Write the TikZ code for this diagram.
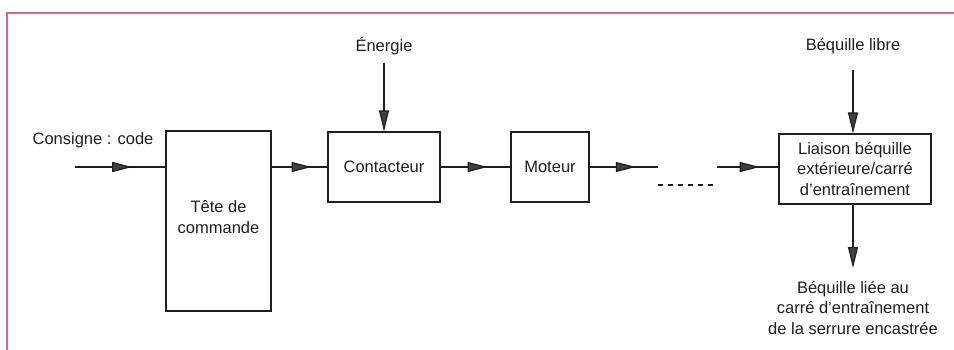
\documentclass[tikz,border=0pt]{standalone}
\usepackage{fontspec}
\setmainfont{Liberation Sans}
\usetikzlibrary{arrows.meta,decorations.markings}
\definecolor{framepink}{RGB}{214,98,150}
\definecolor{ink}{RGB}{30,30,30}
\tikzset{
  block/.style={draw=ink, line width=1.2pt, inner sep=0pt, align=center,
    text=ink, font=\fontsize{16.5}{20.5}\selectfont},
  lbl/.style={inner sep=0pt, align=center, text=ink,
    font=\fontsize{16.5}{20.5}\selectfont},
  link/.style={draw=ink, line width=1.2pt},
  midarrow/.style={link, postaction={decorate}, decoration={markings,
    mark=at position 0.5 with {\arrow[xshift=12pt]{Triangle[length=20pt,width=10pt,fill=ink!85]}}}},
  endarrow/.style={link, -{Triangle[length=21pt,width=10pt,fill=ink!85]}}
}
\begin{document}
\begin{tikzpicture}[x=1pt,y=-1pt]
\useasboundingbox (0,0) rectangle (954,350);
\fill[white] (0,0) rectangle (954,350);
% frame
\draw[framepink, line width=1.5pt] (7,360) -- (7,13) -- (960,13);

% blocks
\node[block, minimum width=105pt, minimum height=180pt] (tete) at (218.5,221) {};
\node[lbl] (tetetxt) at (218.5,217) {T\^ete de\\commande};
\node[block, minimum width=112pt, minimum height=70pt] (cont) at (384,167) {Contacteur};
\node[block, minimum width=78pt, minimum height=70pt] (mot) at (550,167) {Moteur};
\node[block, minimum width=152pt, minimum height=70pt] (liai) at (855,169) {Liaison b\'equille\\ext\'erieure/carr\'e\\d'entra\^inement};

% labels
\node[lbl] (cons) at (93,140) {Consigne : code};
\node[lbl] (ener) at (384,46) {\'Energie};
\node[lbl] (blib) at (853,46) {B\'equille libre};
\node[lbl] (blie) at (853,308) {B\'equille li\'ee au\\carr\'e d'entra\^inement\\de la serrure encastr\'ee};

% free ends
\coordinate (in) at (75,167);
\coordinate (motout) at (658,167);
\coordinate (liain) at (717,167);
\coordinate (enS) at (384,63);
\coordinate (blS) at (853,70);
\coordinate (outE) at (853,268);
\coordinate (dashA) at (658,185);
\coordinate (dashB) at (718,185);

% connectors
\draw[midarrow] (in) -- (in -| tete.west);
\draw[midarrow] (tete.east |- cont.west) -- (cont.west);
\draw[midarrow] (cont.east) -- (mot.west);
\draw[midarrow] (mot.east) -- (motout);
\draw[link, dash pattern=on 5pt off 5pt] (dashA) -- (dashB);
\draw[midarrow] (liain) -- (liain -| liai.west);
\draw[endarrow] (enS) -- (cont.north);
\draw[endarrow] (blS) -- (blS |- liai.north);
\draw[endarrow] (blS |- liai.south) -- (outE);
\end{tikzpicture}
\end{document}
